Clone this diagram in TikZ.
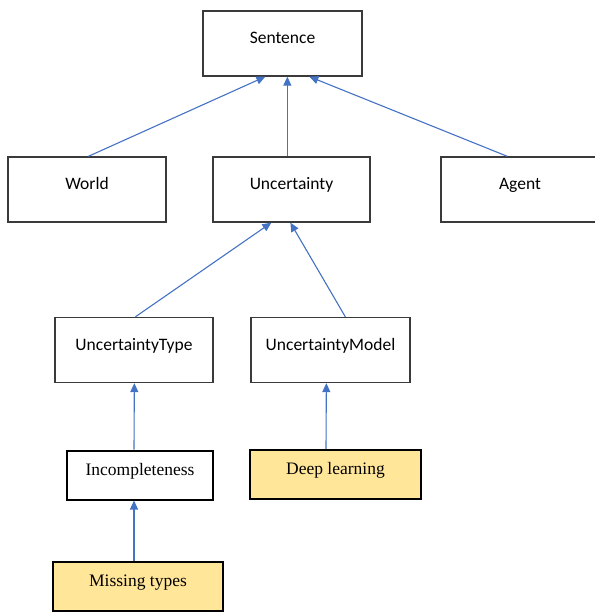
\documentclass[tikz,border=0pt]{standalone}
\usepackage{fontspec}
\setmainfont{Liberation Serif}
\newfontfamily\calib{Carlito}
\usetikzlibrary{arrows.meta,calc}
\definecolor{arrowblue}{HTML}{4472C4}
\definecolor{boxyellow}{HTML}{FFE699}
\definecolor{boxgrey}{HTML}{3A3A3A}
\tikzset{
  ubox/.style={draw=boxgrey, line width=1.3pt, fill=white, inner sep=0pt,
    text height=12pt, text depth=12pt, font=\calib\fontsize{17.5}{20}\selectfont,
    minimum width=#1, minimum height=65pt},
  lbox/.style={draw=black, line width=2pt, inner sep=0pt,
    text height=12pt, text depth=12pt, font=\fontsize{17.5}{20}\selectfont,
    minimum width=#1, minimum height=49pt},
  conn/.style={draw=arrowblue, line width=1.1pt,
    -{Triangle[length=9pt,width=8pt,fill=arrowblue]}}
}
\begin{document}
\begin{tikzpicture}[x=1pt,y=-1pt]
\useasboundingbox (0,0) rectangle (594,612);
\node[ubox=159pt] (sen) at (282.5,43.5) {Sentence};
\node[ubox=158pt] (wor) at (87,189.5) {World};
\node[ubox=157pt] (unc) at (291.5,189.5) {Uncertainty};
\node[ubox=158pt] (age) at (520,189.5) {Agent};
\node[ubox=158pt] (uty) at (134,350) {UncertaintyType};
\node[ubox=159pt] (umo) at (330.5,350) {UncertaintyModel};
\node[lbox=146pt, fill=white] (inc) at (140,475) {Incompleteness};
\node[lbox=171pt, fill=boxyellow] (dee) at (335.5,474.5) {Deep learning};
\node[lbox=170pt, fill=boxyellow] (mis) at (138,586.5) {Missing types};
\draw[conn] ($(wor.north west)+(81,0)$) -- ($(sen.south west)+(63,0)$);
\draw[conn] ($(unc.north west)+(75,0)$) -- ($(sen.south west)+(85,0)$);
\draw[conn] ($(age.north west)+(67,0)$) -- ($(sen.south west)+(107,0)$);
\draw[conn] ($(uty.north west)+(81,0)$) -- ($(unc.south west)+(59,0)$);
\draw[conn] ($(umo.north west)+(95,0)$) -- ($(unc.south west)+(78,0)$);
\draw[conn] ($(inc.north west)+(68,0)$) -- ($(uty.south west)+(80,0)$);
\draw[conn] ($(dee.north west)+(77,0)$) -- ($(umo.south west)+(76,0)$);
\draw[conn] ($(mis.north west)+(82,0)$) -- ($(inc.south west)+(68,0)$);
\end{tikzpicture}
\end{document}
